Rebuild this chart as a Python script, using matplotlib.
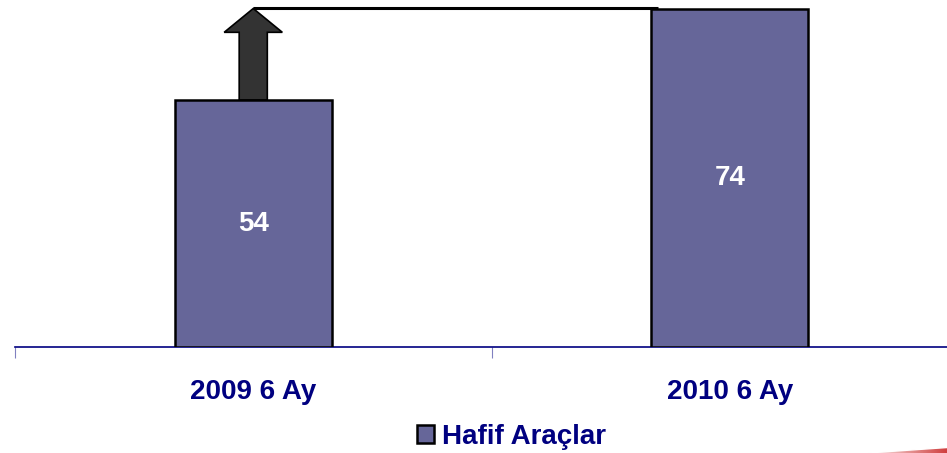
import numpy as np
import matplotlib.pyplot as plt
from matplotlib.patches import FancyArrow, Patch
from matplotlib.colors import LinearSegmentedColormap

plt.rcParams['font.family'] = ['Liberation Sans', 'DejaVu Sans']

# veriler
kategoriler = ['2009 6 Ay', '2010 6 Ay']
hafif_araclar = [54, 74]
seri_adi = 'Hafif Araçlar'

bar_renk = '#666699'
lacivert = '#000080'

fig = plt.figure(figsize=(9.47, 4.53), dpi=100)
ax = fig.add_axes([15 / 947, 106 / 453, 953 / 947, 347 / 453])

x = list(range(len(kategoriler)))
genislik = 0.33
bars = ax.bar(x, hafif_araclar, width=genislik, color=bar_renk,
              edgecolor='black', linewidth=1.8, zorder=3)

# çubuk içi değerler
for xi, v in zip(x, hafif_araclar):
    ax.text(xi, v / 2, str(v), ha='center', va='center', color='white',
            fontsize=20, fontweight='bold', zorder=4)

# artış oku ve seviye çizgisi
ax.add_patch(FancyArrow(x[0], hafif_araclar[0], 0, hafif_araclar[1] - hafif_araclar[0],
                        width=0.059, head_width=0.122, head_length=5.2,
                        length_includes_head=True, facecolor='#333333',
                        edgecolor='black', linewidth=1.2, zorder=2))
ax.plot([x[0], x[1] - genislik / 2 + 0.015], [hafif_araclar[1] + 0.2] * 2,
        color='black', linewidth=2.2, zorder=2, solid_capstyle='butt')

ax.set_xlim(-0.5, 1.5)
ax.set_ylim(0, 347 / 4.574)
for s in ['top', 'right', 'left']:
    ax.spines[s].set_visible(False)
ax.spines['bottom'].set_color(lacivert)
ax.spines['bottom'].set_linewidth(1.2)
ax.set_yticks([])
ax.set_xticks([-0.5, 0.5, 1.5])
ax.set_xticklabels([])
ax.tick_params(axis='x', length=8, width=0.8, color='#8080c0', direction='out')
for xi, k in zip(x, kategoriler):
    ax.text(xi, -45 / 4.574, k, ha='center', va='center', color=lacivert,
            fontsize=20, fontweight='bold')

handle = Patch(facecolor=bar_renk, edgecolor='black', linewidth=1.8)
fig.legend([handle], [seri_adi], loc='center', bbox_to_anchor=(0.54, 1 - 437 / 453),
           frameon=False, prop={'weight': 'bold', 'size': 20},
           handlelength=0.6, handleheight=0.6, handletextpad=0.3,
           labelcolor=lacivert)

# sağ alttaki kırmızı süsleme
sus = fig.add_axes([860 / 947, 0, 87 / 947, 10 / 453])
kirmizi = LinearSegmentedColormap.from_list('k', ['#ffffff', '#d04040'])
sus.imshow(np.tile(np.linspace(0, 1, 100), (2, 1)), cmap=kirmizi, aspect='auto',
           extent=[0, 1, 0, 1])
sus.fill_between([0, 1], [0.0, 0.6], [1, 1], color='white')
sus.set_xlim(0, 1)
sus.set_ylim(0, 1)
sus.axis('off')

fig.savefig('out.png', dpi=100)
